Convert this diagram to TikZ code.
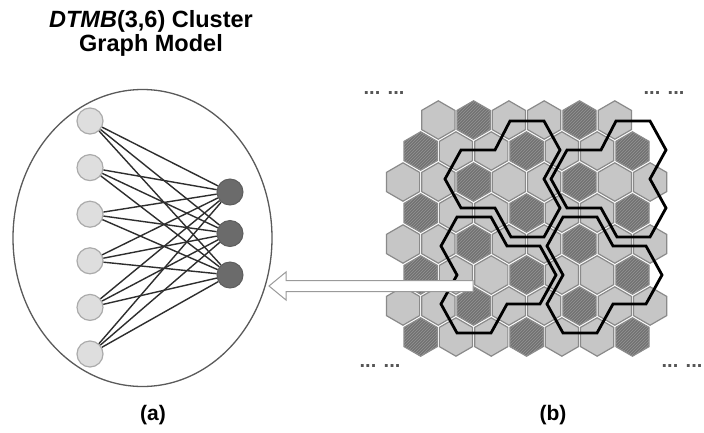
\documentclass[tikz,border=0pt]{standalone}
\usepackage{fontspec}
\setmainfont{Liberation Sans}
\usetikzlibrary{patterns,shapes.geometric}
\definecolor{hexlight}{HTML}{C6C6C6}
\definecolor{hexdark}{HTML}{727272}
\definecolor{hatchc}{HTML}{959595}
\definecolor{hexedge}{HTML}{8A8A8A}
\definecolor{ellgray}{HTML}{5A5A5A}
\definecolor{lnodefill}{HTML}{DEDEDE}
\definecolor{lnodeedge}{HTML}{ABABAB}
\definecolor{rnodefill}{HTML}{6B6B6B}
\definecolor{rnodeedge}{HTML}{5E5E5E}
\definecolor{edgec}{HTML}{2E2E2E}
\definecolor{arrowgray}{HTML}{9A9A9A}
\definecolor{dotc}{HTML}{555555}
\begin{document}
\begin{tikzpicture}[x=1pt,y=-1pt,
  lighthex/.style={draw=hexedge, fill=hexlight, line width=1.2pt},
  darkhex/.style={draw=hexedge, fill=hexdark, line width=1.2pt, postaction={pattern=north east lines, pattern color=hatchc}},
  cluster/.style={draw=black, line width=2.8pt, line join=miter},
  lnode/.style={circle, draw=lnodeedge, fill=lnodefill, line width=1.2pt, minimum size=26pt, inner sep=0pt},
  rnode/.style={circle, draw=rnodeedge, fill=rnodefill, line width=1pt, minimum size=26pt, inner sep=0pt},
  linkline/.style={draw=edgec, line width=1.4pt},
  ellbox/.style={ellipse, draw=ellgray, line width=1.3pt, minimum width=259pt, minimum height=297pt, inner sep=0pt},
  hollowarrow/.style={draw=arrowgray, fill=white, line width=1pt, line join=miter},
  titletext/.style={font=\bfseries\fontsize{23.5}{27}\selectfont, anchor=base, inner sep=0pt},
  labeltext/.style={font=\bfseries\fontsize{21}{25}\selectfont, anchor=base, inner sep=0pt},
  dotstext/.style={font=\bfseries\fontsize{20}{24}\selectfont, text=dotc, anchor=base, inner sep=0pt}]
\fill[white] (0,0) rectangle (704,432);
\useasboundingbox (0,0) rectangle (704,432);

% title
\node[titletext] (title1) at (151,27.5) {\textit{DTMB}(3,6) Cluster};
\node[titletext] (title2) at (151,51) {Graph Model};

% ellipse
\node[ellbox] (ell) at (142.5,238) {};

% nodes
\foreach \i in {1,...,6}{
  \node[lnode] (l\i) at (90,{121+46.6*(\i-1)}) {};
}
\node[rnode] (r1) at (230,192) {};
\node[rnode] (r2) at (230,233.5) {};
\node[rnode] (r3) at (230,275) {};
\foreach \i in {1,...,6}{
  \foreach \j in {1,2,3}{
    \draw[linkline] (l\i) -- (r\j);
  }
}

% hex grid
\foreach \r/\kmin/\kmax in {0/1/6,1/0/6,2/0/7,3/0/6,4/0/7,5/0/6,6/0/7,7/0/6}{
  \foreach \k in {\kmin,...,\kmax}{
    \pgfmathsetmacro{\cx}{403+35.3*\k+17.65*mod(\r,2)}
    \pgfmathsetmacro{\cy}{120+31*\r}
    \pgfmathtruncatemacro{\isdark}{mod(\k+2*mod(\r,2),3)==2 ? 1 : 0}
    \ifnum\isdark=1
      \draw[darkhex] (\cx,\cy) +(0,-19.2) -- +(16.6,-9.6) -- +(16.6,9.6) -- +(0,19.2) -- +(-16.6,9.6) -- +(-16.6,-9.6) -- cycle;
    \else
      \draw[lighthex] (\cx,\cy) +(0,-19.2) -- +(16.6,-9.6) -- +(16.6,9.6) -- +(0,19.2) -- +(-16.6,9.6) -- +(-16.6,-9.6) -- cycle;
    \fi
  }
}

% cluster outlines
\foreach \dx in {0,106}{
  \begin{scope}[shift={(\dx,0)}]
    \draw[cluster] (510,121) -- (544,121) -- (560,150) -- (544,179) -- (560,208) -- (544,237) -- (511,237) -- (495,208) -- (461,208) -- (445,179) -- (461,150) -- (495,150) -- cycle;
    \draw[cluster] (457,217) -- (491,217) -- (507,246) -- (540,246) -- (556,275) -- (540,304) -- (507,304) -- (491,333) -- (457,333) -- (441,304) -- (457,275) -- (441,246) -- cycle;
  \end{scope}
}

% hollow arrow
\draw[hollowarrow] (269,286) -- (286,272) -- (286,280.5) -- (473,280.5) -- (473,291.5) -- (286,291.5) -- (286,300) -- cycle;

% dots
\node[dotstext] (dtl) at (384,94.5) {... ...};
\node[dotstext] (dtr) at (664,94.5) {... ...};
\node[dotstext] (dbl) at (380,367.5) {... ...};
\node[dotstext] (dbr) at (682,367.5) {... ...};

% labels
\node[labeltext] (la) at (153,420) {(a)};
\node[labeltext] (lb) at (553,420) {(b)};
\end{tikzpicture}
\end{document}
